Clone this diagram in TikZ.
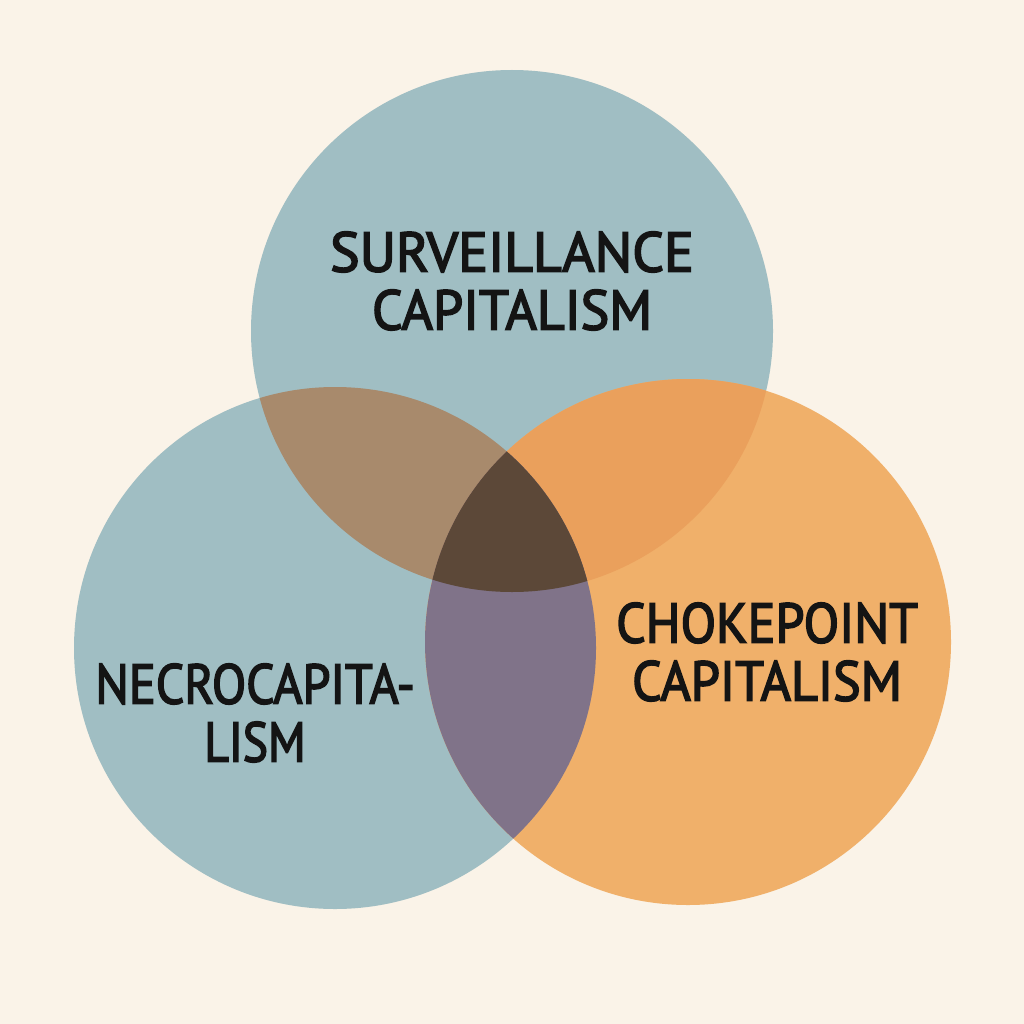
\documentclass[tikz,border=0pt]{standalone}
\usepackage{graphicx}
\usepackage{fontspec}
\setmainfont{PT Sans}
\newfontfamily\labelfont[FakeBold=3]{PT Sans}
\definecolor{paper}{HTML}{FAF3E8}
\definecolor{slate}{HTML}{A0BEC3}
\definecolor{apricot}{HTML}{F0B06A}
\definecolor{umber}{HTML}{A88A6C}
\definecolor{amber}{HTML}{EAA05C}
\definecolor{mauve}{HTML}{807389}
\definecolor{cocoa}{HTML}{5C4838}
\definecolor{ink}{HTML}{141414}
% horizontally condensed line of label text
\newcommand\narrowline[2]{\scalebox{#1}[1]{#2}}
\tikzset{
  label text/.style={font=\labelfont\fontsize{56}{58}\selectfont, text=ink, align=center, inner sep=0pt}
}
\begin{document}
\begin{tikzpicture}[x=1pt,y=-1pt]
  \fill[paper] (0,0) rectangle (1024,1024);
  \useasboundingbox (0,0) rectangle (1024,1024);
  \coordinate (T) at (512,331);
  \coordinate (L) at (335,648);
  \coordinate (R) at (688,642);
  % base discs
  \fill[slate] (T) circle[radius=261pt];
  \fill[slate] (L) circle[radius=261pt];
  \fill[apricot] (R) circle[radius=263pt];
  % pairwise overlaps
  \begin{scope}
    \clip (T) circle[radius=261pt];
    \fill[umber] (L) circle[radius=261pt];
    \fill[amber] (R) circle[radius=263pt];
  \end{scope}
  \begin{scope}
    \clip (L) circle[radius=261pt];
    \fill[mauve] (R) circle[radius=263pt];
  \end{scope}
  % triple overlap
  \begin{scope}
    \clip (T) circle[radius=261pt];
    \clip (L) circle[radius=261pt];
    \fill[cocoa] (R) circle[radius=263pt];
  \end{scope}
  % labels
  \node[label text] (surv) at (512,281)
    {\narrowline{0.995}{SURVEILLANCE}\\\narrowline{0.965}{CAPITALISM}};
  \node[label text] (necro) at (255,713)
    {\narrowline{0.893}{NECROCAPITA-}\\\narrowline{0.85}{LISM}};
  \node[label text] (choke) at (767,652)
    {\narrowline{0.926}{CHOKEPOINT}\\\narrowline{0.93}{CAPITALISM}};
\end{tikzpicture}
\end{document}
